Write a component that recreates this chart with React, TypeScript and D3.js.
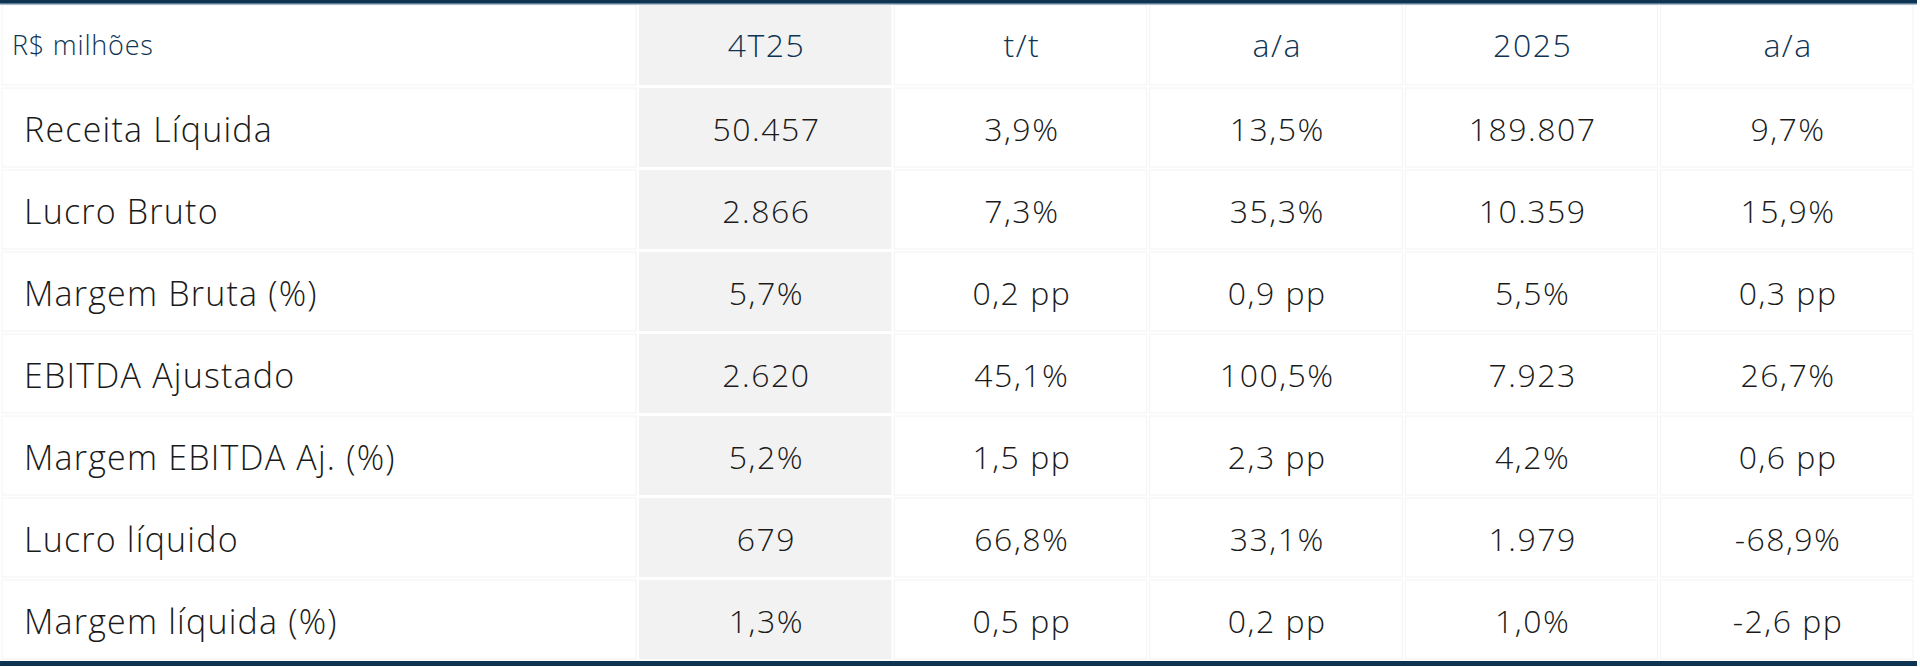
import React from "react";
import * as d3 from "d3";

const headers = ["R$ milhões", "4T25", "t/t", "a/a", "2025", "a/a"];
const rowLabels = [
	"Receita Líquida",
	"Lucro Bruto",
	"Margem Bruta (%)",
	"EBITDA Ajustado",
	"Margem EBITDA Aj. (%)",
	"Lucro líquido",
	"Margem líquida (%)",
];
const q4Values = ["50.457", "2.866", "5,7%", "2.620", "5,2%", "679", "1,3%"];
const qoqValues = ["3,9%", "7,3%", "0,2 pp", "45,1%", "1,5 pp", "66,8%", "0,5 pp"];
const yoyValues = ["13,5%", "35,3%", "0,9 pp", "100,5%", "2,3 pp", "33,1%", "0,2 pp"];
const yearValues = ["189.807", "10.359", "5,5%", "7.923", "4,2%", "1.979", "1,0%"];
const yearYoyValues = ["9,7%", "15,9%", "0,3 pp", "26,7%", "0,6 pp", "-68,9%", "-2,6 pp"];

const W = 1920;
const H = 667;
const NAVY = "#0e3453";
const FONT = "'Open Sans', 'Noto Sans', sans-serif";

const App = () => {
	const valueCols = [q4Values, qoqValues, yoyValues, yearValues, yearYoyValues];

	const firstColRight = 638;
	const colScale = d3
		.scaleBand<number>()
		.domain(d3.range(valueCols.length))
		.range([firstColRight, 1915]);

	const rowScale = d3
		.scaleBand<number>()
		.domain(d3.range(rowLabels.length))
		.range([87, 661]);

	const headTop = 4;
	const headBottom = 87;
	// centre of a cell, shifted by half the trailing letter spacing
	const cx = (i: number, ls: number) => colScale(i)! + colScale.bandwidth() / 2 + ls / 2;

	return (
		<svg width={W} height={H} style={{ display: "block", position: "absolute", left: 0, top: 0 }}>
			<rect x={0} y={0} width={W} height={H} fill="#ffffff" />

			{/* header cells */}
			<rect x={2} y={headTop + 1} width={firstColRight - 4} height={headBottom - headTop - 3} fill="#fff" stroke="#f3f3f3" />
			{valueCols.map((_, i) => (
				<rect
					key={`h${i}`}
					x={colScale(i)! + 1}
					y={headTop + 1}
					width={colScale.bandwidth() - 3}
					height={headBottom - headTop - 3}
					fill={i === 0 ? "#f2f2f2" : "#fff"}
					stroke={i === 0 ? "none" : "#f3f3f3"}
				/>
			))}
			<text x={12} y={(headTop + headBottom) / 2} dy="0.35em" fill={NAVY} fontFamily={FONT} fontWeight={300} fontSize={27} letterSpacing={0.8}>
				{headers[0]}
			</text>
			{headers.slice(1).map((h, i) => (
				<text
					key={`ht${i}`}
					x={cx(i, 1.5)}
					y={(headTop + headBottom) / 2}
					dy="0.35em"
					textAnchor="middle"
					fill={NAVY}
					fontFamily={FONT}
					fontWeight={300}
					fontSize={32}
					letterSpacing={1.5}
				>
					{h}
				</text>
			))}

			{/* body rows */}
			{rowLabels.map((label, r) => {
				const y = rowScale(r)!;
				const h = rowScale.bandwidth();
				return (
					<g key={`r${r}`}>
						<rect x={2} y={y + 1} width={firstColRight - 4} height={h - 3} fill="#fff" stroke="#f3f3f3" />
						{valueCols.map((col, i) => (
							<rect
								key={`c${i}`}
								x={colScale(i)! + 1}
								y={y + 1}
								width={colScale.bandwidth() - 3}
								height={h - 3}
								fill={i === 0 ? "#f2f2f2" : "#fff"}
								stroke={i === 0 ? "none" : "#f3f3f3"}
							/>
						))}
						<text x={24} y={y + h / 2} dy="0.4em" fill="#1a1a1a" fontFamily={FONT} fontWeight={300} fontSize={34} letterSpacing={1.2}>
							{label}
						</text>
						{valueCols.map((col, i) => (
							<text
								key={`t${i}`}
								x={cx(i, 1.5)}
								y={y + h / 2}
								dy="0.4em"
								textAnchor="middle"
								fill="#1a1a1a"
								fontFamily={FONT}
								fontWeight={300}
								fontSize={32}
								letterSpacing={1.5}
							>
								{col[r]}
							</text>
						))}
					</g>
				);
			})}

			{/* top and bottom rules */}
			<rect x={0} y={0} width={1917} height={3} fill={NAVY} />
			<rect x={0} y={3} width={1917} height={1.5} fill="#5d7a93" />
			<rect x={0} y={661} width={1917} height={5} fill={NAVY} />
		</svg>
	);
};

export default App;
